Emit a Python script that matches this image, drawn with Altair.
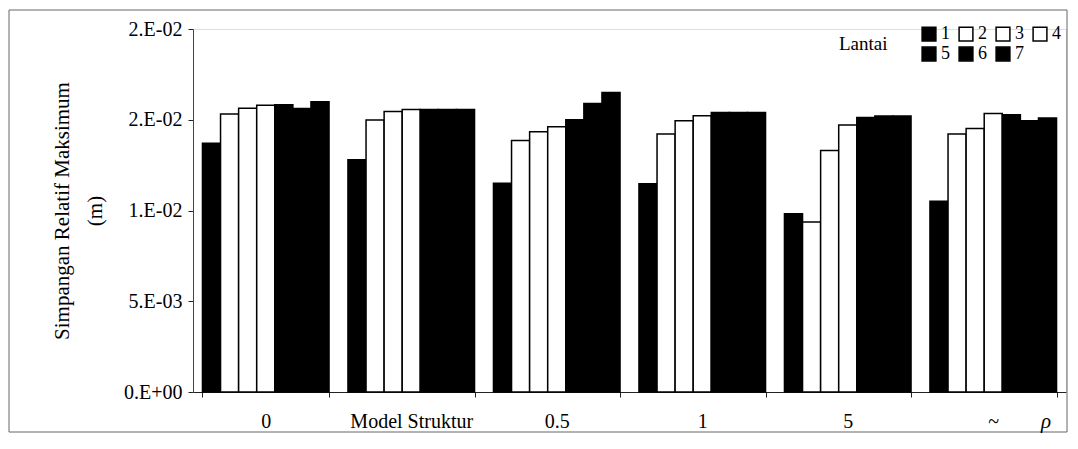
import json
import altair as alt
import pandas as pd

# ---- data ----
groups = ["0", "Model Struktur", "0.5", "1", "5", "~"]
lantai = ["1", "2", "3", "4", "5", "6", "7"]
g_0 = [0.01370, 0.01531, 0.01564, 0.01580, 0.01583, 0.01562, 0.01599]
g_model = [0.01279, 0.01498, 0.01546, 0.01557, 0.01557, 0.01557, 0.01557]
g_05 = [0.01150, 0.01385, 0.01434, 0.01462, 0.01500, 0.01590, 0.01650]
g_1 = [0.01147, 0.01421, 0.01495, 0.01522, 0.01540, 0.01540, 0.01540]
g_5 = [0.00982, 0.00936, 0.01330, 0.01471, 0.01513, 0.01520, 0.01520]
g_inf = [0.01051, 0.01421, 0.01452, 0.01535, 0.01527, 0.01495, 0.01509]
series = [g_0, g_model, g_05, g_1, g_5, g_inf]

tick_values = [0, 0.005, 0.01, 0.015, 0.02]
tick_labels = ["0.E+00", "5.E-03", "1.E-02", "2.E-02", "2.E-02"]
fill_colors = ["#000000", "#ffffff", "#ffffff", "#ffffff", "#000000", "#000000", "#000000"]

rows = []
for g, vals in zip(groups, series):
    for l, v in zip(lantai, vals):
        rows.append({"Model": g, "Lantai": l, "Value": v})
df = pd.DataFrame(rows)

FONT = "Liberation Serif"
W, H = 873, 363
step = tick_values[1] - tick_values[0]
label_expr = f"{json.dumps(tick_labels)}[round(datum.value / {step})]"

bars = alt.Chart(df).mark_bar(stroke="black", strokeWidth=1.5).encode(
    x=alt.X("Model:N", sort=groups,
            scale=alt.Scale(paddingInner=0.13, paddingOuter=0.065),
            axis=alt.Axis(title=None, labelAngle=0, labelFont=FONT, labelFontSize=20,
                          labelColor="black", tickBand="extent", tickSize=5,
                          tickColor="#222", domainColor="#222", labelPadding=14)),
    xOffset=alt.XOffset("Lantai:N", sort=lantai,
                        scale=alt.Scale(paddingInner=0, paddingOuter=0)),
    y=alt.Y("Value:Q", scale=alt.Scale(domain=[0, 0.02], nice=False, zero=True),
            axis=alt.Axis(values=tick_values, labelExpr=label_expr,
                          title=["Simpangan Relatif Maksimum", "(m)"],
                          titleFont=FONT, titleFontSize=21, titleFontWeight="normal",
                          titleColor="black", titleAngle=270, titleBaseline="bottom",
                          titleAlign="center", titleLineHeight=33,
                          titleX=-121, titleY=H / 2,
                          labelFont=FONT, labelFontSize=20, labelColor="black",
                          labelPadding=6, tickSize=5, tickColor="#222",
                          domainColor="#444", grid=False)),
    fill=alt.Fill("Lantai:N", sort=lantai,
                  scale=alt.Scale(domain=lantai, range=fill_colors),
                  legend=alt.Legend(title=None, orient="none", legendX=727, legendY=-4,
                                    direction="horizontal", columns=4,
                                    symbolType="square", symbolSize=190,
                                    symbolStrokeColor="black", symbolStrokeWidth=1.5,
                                    symbolOpacity=1, labelFont=FONT, labelFontSize=18,
                                    labelColor="black", labelOffset=3,
                                    columnPadding=6, rowPadding=0, padding=0)),
)

one = pd.DataFrame({"k": [0]})
frame = alt.Chart(one).mark_rect(fill=None, stroke="#666", strokeWidth=1).encode(
    x=alt.value(-184), x2=alt.value(W + 1), y=alt.value(-19), y2=alt.value(H + 40)
)
lantai_title = alt.Chart(one).mark_text(
    text="Lantai", font=FONT, fontSize=19, align="left", baseline="alphabetic", color="black"
).encode(x=alt.value(646), y=alt.value(21))
rho = alt.Chart(one).mark_text(
    text="ρ", font=FONT, fontSize=21, fontStyle="italic", align="center",
    baseline="alphabetic", color="black"
).encode(x=alt.value(853), y=alt.value(36 + H))

chart = alt.layer(bars, frame, lantai_title, rho).properties(
    width=W, height=H,
    padding={"left": 185, "top": 21, "right": 3, "bottom": 41},
    autosize=alt.AutoSizeParams(type="none"),
).configure_view(stroke=None).configure(background="white")

chart.save("out.html", embed_options={"renderer": "svg", "actions": False})
